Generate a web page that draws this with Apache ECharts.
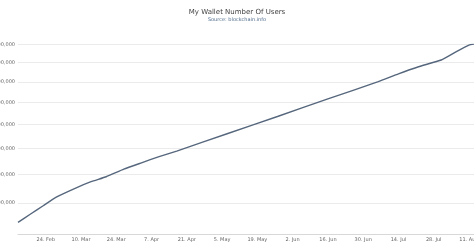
<!DOCTYPE html>
<html>
<head>
<meta charset="utf-8">
<script src="https://cdn.jsdelivr.net/npm/echarts@6/dist/echarts.min.js"></script>
<style>
  html, body { margin: 0; padding: 0; background: #fff; }
  #chart { width: 474px; height: 248px; }
</style>
</head>
<body>
<div id="chart"></div>
<script>
// My Wallet user count, 2014 (estimated readings)
const dates = ['2014-02-13', '2014-02-18', '2014-02-23', '2014-02-28', '2014-03-07',
  '2014-03-14', '2014-03-20', '2014-03-27', '2014-04-03', '2014-04-10', '2014-04-17',
  '2014-05-07', '2014-05-27', '2014-06-16', '2014-07-06', '2014-07-14', '2014-07-22',
  '2014-07-31', '2014-08-06', '2014-08-11', '2014-08-13'];
const users = [937500, 964000, 991000, 1019000, 1048000,
  1074000, 1092000, 1120000, 1144000, 1168000, 1190000,
  1261000, 1336000, 1417000, 1501000, 1541000, 1578000,
  1614000, 1660000, 1697000, 1703000];

// axis ticks
const xTickDates = ['2014-02-24', '2014-03-10', '2014-03-24', '2014-04-07', '2014-04-21',
  '2014-05-05', '2014-05-19', '2014-06-02', '2014-06-16', '2014-06-30', '2014-07-14',
  '2014-07-28', '2014-08-11'];
const yTickValues = [900000, 1000000, 1100000, 1200000, 1300000, 1400000, 1500000, 1600000, 1700000];
const yLabelValues = [1000000, 1100000, 1200000, 1300000, 1400000, 1500000, 1600000, 1700000];

const MONTHS = ['Jan', 'Feb', 'Mar', 'Apr', 'May', 'Jun', 'Jul', 'Aug', 'Sep', 'Oct', 'Nov', 'Dec'];
const DAY = 86400000;
const ts = s => Date.parse(s + 'T00:00:00Z');
// x positions are day numbers counted from the first labelled Monday
const origin = ts(xTickDates[0]);
const dayOf = s => (ts(s) - origin) / DAY;
const fmtDay = n => { const d = new Date(origin + n * DAY); return d.getUTCDate() + '. ' + MONTHS[d.getUTCMonth()]; };
const fmtNum = v => Math.round(v).toString().replace(/\B(?=(\d{3})+(?!\d))/g, ',');

const chart = echarts.init(document.getElementById('chart'), null, { renderer: 'canvas' });
chart.setOption({
  animation: false,
  backgroundColor: '#ffffff',
  title: {
    text: 'My Wallet Number Of Users',
    subtext: 'Source: blockchain.info',
    left: 'center',
    top: 4,
    itemGap: 1,
    textStyle: { fontFamily: 'DejaVu Sans', fontSize: 7, fontWeight: 'normal', color: '#3e3e3e' },
    subtextStyle: { fontFamily: 'DejaVu Sans', fontSize: 5, color: '#4d6a8a' }
  },
  grid: {
    left: 18, right: 0, top: 44.5, bottom: 13.5,
    containLabel: false,
    outerBoundsMode: 'none'
  },
  xAxis: {
    type: 'value',
    min: dayOf('2014-02-13'),
    max: dayOf('2014-08-13'),
    axisLine: { show: true, lineStyle: { color: '#d8d8d8', width: 1 } },
    axisTick: { show: false, customValues: xTickDates.map(dayOf) },
    splitLine: { show: false },
    axisLabel: {
      customValues: xTickDates.map(dayOf),
      formatter: v => fmtDay(v),
      fontFamily: 'DejaVu Sans', fontSize: 5, color: '#666666', margin: 3,
      hideOverlap: false
    }
  },
  yAxis: {
    type: 'log',
    logBase: 10,
    min: 900000,
    max: 1700000,
    axisLine: { show: false },
    axisTick: { show: false, customValues: yTickValues },
    splitLine: { show: true, lineStyle: { color: '#ebebeb', width: 1 } },
    axisLabel: {
      customValues: yLabelValues,
      formatter: v => fmtNum(v),
      fontFamily: 'DejaVu Sans', fontSize: 5, color: '#666666', margin: 3
    }
  },
  series: [{
    type: 'line',
    data: dates.map((d, i) => [dayOf(d), users[i]]),
    showSymbol: false,
    smooth: 0.15,
    lineStyle: { color: '#56677d', width: 1.4 },
    itemStyle: { color: '#56677d' }
  }]
});
</script>
</body>
</html>
